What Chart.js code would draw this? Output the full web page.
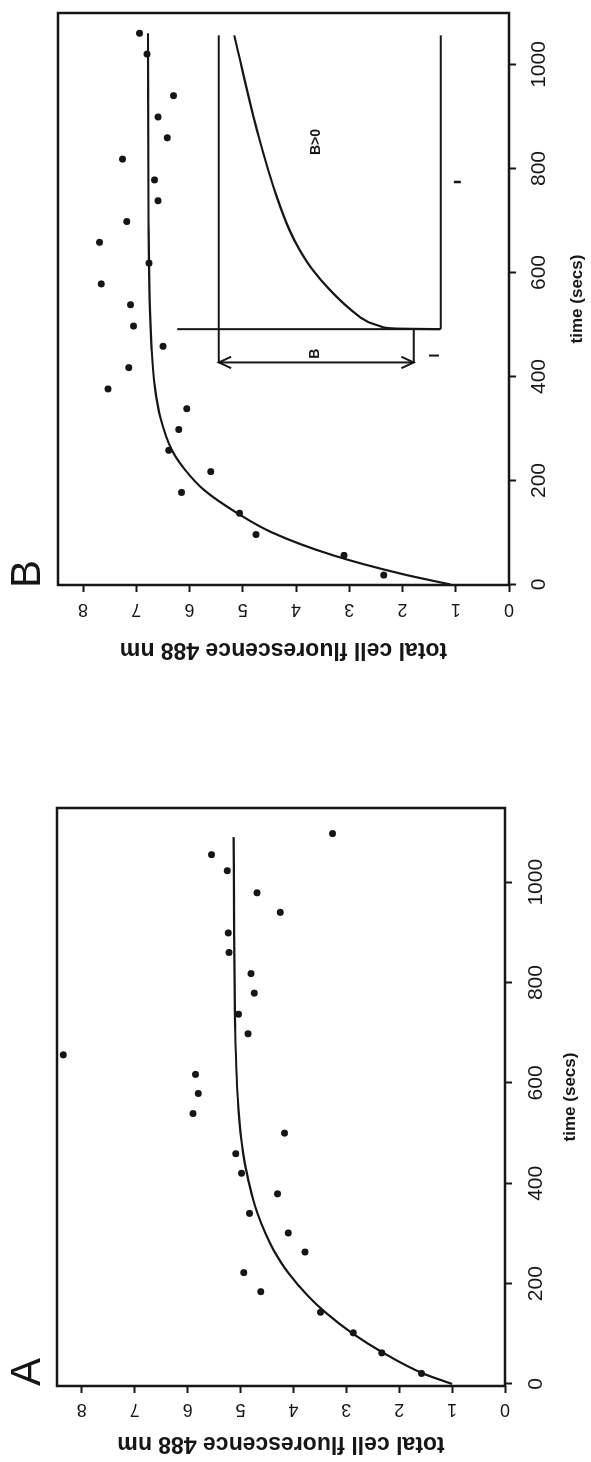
<!DOCTYPE html>
<html>
<head>
<meta charset="utf-8">
<script src="https://cdn.jsdelivr.net/npm/chart.js@4.4.0/dist/chart.umd.min.js"></script>
<style>
  html, body { margin: 0; padding: 0; background: #fff; }
  body { width: 591px; height: 1462px; overflow: hidden; position: relative; }
  /* the two panels are laid out side by side, then the whole figure is turned a quarter turn */
  #figure { position: absolute; left: 0; top: 0; width: 1462px; height: 591px;
            transform-origin: 0 0; transform: translateY(1462px) rotate(-90deg); }
  #figure canvas { position: absolute; top: 0; }
</style>
</head>
<body>
<div id="figure">
  <canvas id="panelA" width="731" height="591" style="left:0;width:731px;height:591px"></canvas>
  <canvas id="panelB" width="731" height="591" style="left:731px;width:731px;height:591px"></canvas>
</div>
<script>
const FONT = "'Liberation Sans', Arial, Helvetica, sans-serif";
const INK = '#161616';

// axis ticks
const timeTicks = [0, 200, 400, 600, 800, 1000];
const fluorTicks = [0, 1, 2, 3, 4, 5, 6, 7, 8];

// panel A: measured total cell fluorescence (time in secs)
const timeA  = [21, 62, 102, 143, 184, 222, 263, 301, 340, 379, 420, 459, 500, 539,
                579, 617, 656, 698, 737, 779, 818, 860, 899, 940, 979, 1023, 1055, 1097];
const fluorA = [1.58, 2.33, 2.87, 3.49, 4.62, 4.94, 3.78, 4.10, 4.83, 4.30, 4.98, 5.09, 4.17, 5.90,
                5.80, 5.85, 8.35, 4.86, 5.04, 4.74, 4.80, 5.22, 5.23, 4.25, 4.69, 5.25, 5.55, 3.26];

// panel A: fitted curve
const fitTimeA  = [0, 21, 62, 102, 143, 175, 222, 268, 300, 340, 367, 420, 460, 550, 700, 900, 1090];
const fitFluorA = [1.0, 1.55, 2.3, 2.9, 3.4, 3.72, 4.1, 4.38, 4.53, 4.68, 4.76, 4.88, 4.95, 5.04, 5.1, 5.12, 5.13];

// panel B: measured total cell fluorescence
const timeB  = [18, 56, 96, 137, 177, 217, 258, 298, 338, 376, 417, 458, 497,
                538, 578, 618, 658, 698, 738, 778, 818, 859, 899, 940, 1020, 1060];
const fluorB = [2.35, 3.1, 4.75, 5.06, 6.15, 5.60, 6.39, 6.20, 6.05, 7.53, 7.14, 6.50, 7.05,
                7.11, 7.66, 6.76, 7.69, 7.18, 6.59, 6.66, 7.26, 6.42, 6.59, 6.30, 6.80, 6.94];

// panel B: fitted curve
const fitTimeB  = [0, 20, 56, 100, 137, 181, 220, 258, 322, 380, 451, 547, 700, 1060];
const fitFluorB = [1.1, 2.0, 3.3, 4.45, 5.1, 5.72, 6.08, 6.33, 6.55, 6.65, 6.71, 6.75, 6.77, 6.78];

// panel B: schematic of the B>0 response
const insetCurveTime  = [491, 492, 496, 505, 531, 566, 604, 643, 681, 745, 861, 1056];
const insetCurveFluor = [1.30, 2.1, 2.4, 2.65, 3.0, 3.36, 3.68, 3.93, 4.12, 4.36, 4.7, 5.16];
const insetStart = 491;     // time the schematic response starts
const insetEnd = 1056;
const insetUpper = 5.45;    // upper guide level
const insetLower = 1.28;    // lower guide level
const insetStartTop = 6.23; // top of the start line
const arrowTime = 427;
const arrowLow = 1.79;
const strayTime = [774];
const strayFluor = [0.97];

const pts = (xs, ys) => xs.map((x, i) => ({ x, y: ys[i] }));

function dots(data) {
  return { type: 'scatter', data, pointRadius: 3.5, pointBackgroundColor: INK, pointBorderWidth: 0 };
}
function curve(data) {
  return { type: 'line', data, showLine: true, pointRadius: 0, borderColor: INK, borderWidth: 2.2,
           cubicInterpolationMode: 'monotone', fill: false };
}
function segment(data) {
  return { type: 'line', data, showLine: true, pointRadius: 0, borderColor: INK, borderWidth: 2,
           tension: 0, fill: false };
}

// frame, turned fluorescence labels, titles and panel letter
const panelText = {
  id: 'panelText',
  afterDraw(chart, args, o) {
    const { ctx, chartArea: a, scales: { x, y } } = chart;
    ctx.save();
    ctx.strokeStyle = INK;
    ctx.lineWidth = 2.5;
    ctx.strokeRect(a.left, a.top, a.right - a.left, a.bottom - a.top);

    ctx.fillStyle = INK;
    ctx.textAlign = 'center';
    ctx.textBaseline = 'middle';
    const turned = (text, px, py, font) => {
      ctx.save();
      ctx.translate(px, py);
      ctx.rotate(-Math.PI / 2);
      ctx.font = font;
      ctx.fillText(text, 0, 0);
      ctx.restore();
    };
    fluorTicks.forEach(v => turned(String(v), a.left - o.fluorLabelGap, y.getPixelForValue(v), `18px ${FONT}`));
    turned('total cell fluorescence 488 nm', a.left - o.fluorTitleGap, (a.top + a.bottom) / 2, `bold 23px ${FONT}`);

    ctx.font = `bold 17px ${FONT}`;
    ctx.fillText('time (secs)', (a.left + a.right) / 2, a.bottom + o.timeTitleGap);

    ctx.font = `42px ${FONT}`;
    ctx.fillText(o.letter, a.left + o.letterDx, o.letterY);

    ctx.font = `bold 14px ${FONT}`;
    (o.notes || []).forEach(n => ctx.fillText(n.text, x.getPixelForValue(n.t), y.getPixelForValue(n.f)));
    ctx.restore();
  }
};

function makePanel(id, datasets, lay) {
  return new Chart(document.getElementById(id), {
    type: 'scatter',
    data: { datasets },
    options: {
      responsive: false,
      animation: false,
      events: [],
      layout: { padding: { top: lay.padTop, right: lay.padRight, left: 0, bottom: 0 } },
      plugins: { legend: { display: false }, tooltip: { enabled: false }, panelText: lay },
      scales: {
        x: {
          type: 'linear', position: 'bottom', min: lay.timeMin, max: lay.timeMax,
          afterBuildTicks: s => { s.ticks = timeTicks.map(value => ({ value })); },
          afterFit: s => { s.height = lay.xHeight; },
          ticks: { color: INK, font: { family: FONT, size: 21 }, padding: lay.tickPad,
                   maxRotation: 0, autoSkip: false, callback: v => String(v) },
          grid: { drawOnChartArea: false, tickLength: 7, tickWidth: 2, tickColor: INK },
          border: { display: false }
        },
        y: {
          type: 'linear', position: 'left', min: 0, max: 8.47,
          afterBuildTicks: s => { s.ticks = fluorTicks.map(value => ({ value })); },
          afterFit: s => { s.width = lay.yWidth; },
          ticks: { display: false },
          grid: { drawOnChartArea: false, tickLength: 7, tickWidth: 2, tickColor: INK },
          border: { display: false }
        }
      }
    },
    plugins: [panelText]
  });
}

makePanel('panelA', [
  curve(pts(fitTimeA, fitFluorA)),
  dots(pts(timeA, fluorA))
], {
  timeMin: -4, timeMax: 1148, padTop: 57, padRight: 77, yWidth: 76, xHeight: 86, tickPad: 12,
  fluorLabelGap: 23, fluorTitleGap: 57, timeTitleGap: 65, letter: 'A', letterDx: 14, letterY: 28
});

makePanel('panelB', [
  curve(pts(fitTimeB, fitFluorB)),
  dots(pts(timeB, fluorB)),
  // schematic: guides, start line, amplitude arrow and response curve
  segment([{ x: arrowTime, y: insetUpper }, { x: insetEnd, y: insetUpper }]),
  segment([{ x: insetStart, y: insetLower }, { x: insetEnd, y: insetLower }]),
  segment([{ x: insetStart, y: insetStartTop }, { x: insetStart, y: insetLower }]),
  segment([{ x: arrowTime, y: arrowLow }, { x: insetStart, y: arrowLow }]),
  segment([{ x: arrowTime, y: arrowLow }, { x: arrowTime, y: insetUpper }]),
  segment([{ x: arrowTime - 11, y: insetUpper - 0.23 }, { x: arrowTime, y: insetUpper }, { x: arrowTime + 11, y: insetUpper - 0.23 }]),
  segment([{ x: arrowTime - 11, y: arrowLow + 0.23 }, { x: arrowTime, y: arrowLow }, { x: arrowTime + 11, y: arrowLow + 0.23 }]),
  curve(pts(insetCurveTime, insetCurveFluor)),
  { type: 'scatter', data: pts(strayTime, strayFluor), pointStyle: 'line', rotation: 90,
    pointRadius: 3.5, borderColor: INK, borderWidth: 2.5 }
], {
  timeMin: -1, timeMax: 1099, padTop: 58, padRight: 13, yWidth: 146, xHeight: 82, tickPad: 11,
  fluorLabelGap: 24, fluorTitleGap: 64, timeTitleGap: 68, letter: 'B', letterDx: 11, letterY: 28,
  notes: [
    { text: 'B>0', t: 851, f: 3.62 },
    { text: 'B', t: 444, f: 3.64 },
    { text: 'I', t: 440, f: 1.39 }
  ]
});
</script>
</body>
</html>
